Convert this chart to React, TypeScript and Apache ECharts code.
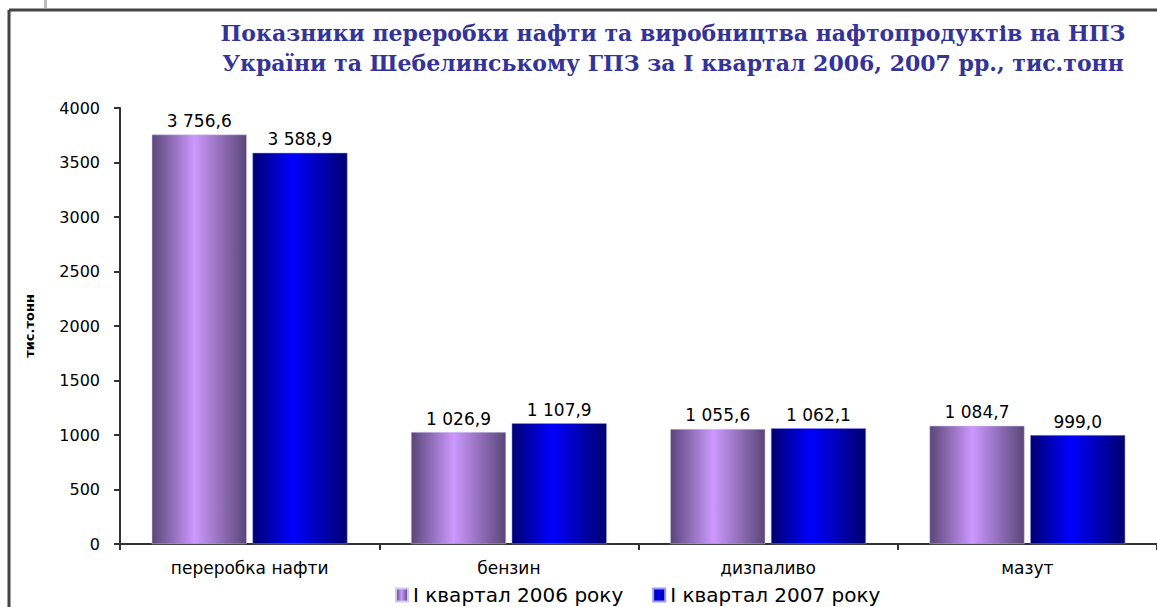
import React, { useEffect, useRef } from "react";
import * as echarts from "echarts";

const categories = ["переробка нафти", "бензин", "дизпаливо", "мазут"];
const series2006 = [3756.6, 1026.9, 1055.6, 1084.7];
const series2007 = [3588.9, 1107.9, 1062.1, 999.0];
const seriesNames = ["I квартал 2006 року", "I квартал 2007 року"];
const titleLines = [
  "Показники переробки нафти та виробництва нафтопродуктів на НПЗ",
  "України та Шебелинському ГПЗ за I квартал 2006, 2007 рр., тис.тонн",
];
const yAxisName = "тис.тонн";

function fmt(v: number): string {
  const [i, d] = v.toFixed(1).split(".");
  return i.replace(/\B(?=(\d{3})+(?!\d))/g, " ") + "," + d;
}

const SANS = "DejaVu Sans, Arial, sans-serif";

const purpleGrad = new echarts.graphic.LinearGradient(0, 0, 1, 0, [
  { offset: 0, color: "#5a4678" },
  { offset: 0.45, color: "#cc99ff" },
  { offset: 1, color: "#5a4678" },
]);
const blueGrad = new echarts.graphic.LinearGradient(0, 0, 1, 0, [
  { offset: 0, color: "#000070" },
  { offset: 0.42, color: "#0000ff" },
  { offset: 1, color: "#000070" },
]);

export default function App() {
  const ref = useRef<HTMLDivElement>(null);
  useEffect(() => {
    if (!ref.current) return;
    const chart = echarts.init(ref.current, null, { renderer: "svg" });
    const labelStyle = {
      show: true,
      position: "top" as const,
      distance: 5,
      color: "#000",
      fontSize: 17,
      fontFamily: SANS,
      formatter: (p: any) => fmt(p.value),
    };
    chart.setOption({
      animation: false,
      backgroundColor: "#fff",
      title: {
        text: titleLines.join("\n"),
        left: 668,
        top: 13,
        textAlign: "center",
        textStyle: {
          fontFamily: "DejaVu Serif, Liberation Serif, serif",
          fontWeight: "bold",
          fontSize: 22,
          lineHeight: 30,
          color: "#333399",
        },
      },
      graphic: [
        { type: "line", shape: { x1: 9, y1: 10, x2: 1157, y2: 10 }, style: { stroke: "#444", lineWidth: 3 } },
        { type: "line", shape: { x1: 9, y1: 10, x2: 9, y2: 607 }, style: { stroke: "#444", lineWidth: 3 } },
        { type: "rect", shape: { x: 44, y: 0, width: 3, height: 8 }, style: { fill: "#bbb" } },
      ],
      legend: {
        bottom: -3,
        left: 390,
        itemWidth: 12,
        itemHeight: 13,
        itemGap: 29,
        icon: "rect",
        textStyle: { fontSize: 20, color: "#000", fontFamily: SANS },
        data: seriesNames,
      },
      grid: { left: 120, top: 108, bottom: 63, width: 1048, containLabel: false },
      xAxis: {
        type: "category",
        data: categories,
        axisLine: { show: true, lineStyle: { color: "#333", width: 2 } },
        axisTick: { show: true, length: 6, lineStyle: { color: "#333", width: 2 } },
        axisLabel: { color: "#000", fontSize: 17, margin: 15, fontFamily: SANS },
      },
      yAxis: {
        type: "value",
        min: 0,
        max: 4000,
        interval: 500,
        name: yAxisName,
        nameLocation: "middle",
        nameRotate: 90,
        nameGap: 84,
        nameTextStyle: { color: "#000", fontSize: 13, fontWeight: "bold", fontFamily: SANS },
        axisLine: { show: true, lineStyle: { color: "#333", width: 2 } },
        axisTick: { show: true, length: 6, lineStyle: { color: "#333", width: 2 } },
        splitLine: { show: false },
        axisLabel: {
          color: "#000",
          fontSize: 16,
          margin: 20,
          fontFamily: SANS,
          formatter: (v: number) => String(v),
        },
      },
      series: [
        {
          name: seriesNames[0],
          type: "bar",
          data: series2006,
          barWidth: 95,
          barGap: "6%",
          itemStyle: { color: purpleGrad, borderColor: "#ccccee", borderWidth: 0.5 },
          label: labelStyle,
        },
        {
          name: seriesNames[1],
          type: "bar",
          data: series2007,
          barWidth: 95,
          itemStyle: { color: blueGrad, borderColor: "#9999ff", borderWidth: 0.5 },
          label: labelStyle,
        },
      ],
    });
    return () => chart.dispose();
  }, []);
  return (
    <div
      ref={ref}
      style={{ position: "absolute", left: 0, top: 0, width: 1157, height: 607 }}
    />
  );
}
